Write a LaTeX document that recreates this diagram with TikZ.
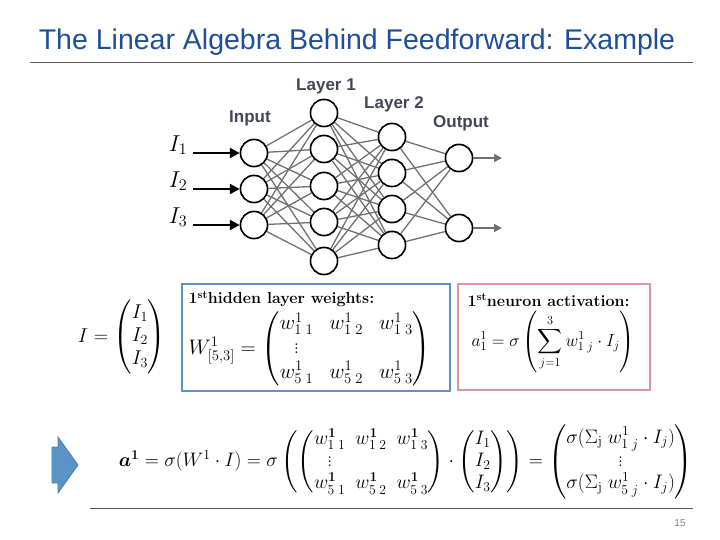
\RequirePackage{fix-cm}
\documentclass[tikz,border=0pt]{standalone}
\usepackage{amsmath,bm}
\usepackage{fontspec}
\newfontfamily\sans{Liberation Sans}
\usetikzlibrary{arrows.meta}
\definecolor{ttl}{HTML}{1F4E9A}
\definecolor{lbl}{HTML}{404858}
\definecolor{bbox}{HTML}{5B93C8}
\definecolor{pbox}{HTML}{E0939E}
\definecolor{cgray}{HTML}{707070}
\begin{document}
\begin{tikzpicture}[x=1pt,y=-1pt,
  neuron/.style={circle,draw=black,line width=1.5pt,minimum size=27pt,inner sep=0pt,fill=white},
  conn/.style={draw=cgray,line width=1.3pt},
  lab/.style={font={\sans\bfseries\fontsize{17}{19}\selectfont},text=lbl},
  inarr/.style={line width=2.4pt,-{Triangle[length=10pt,width=10pt]}},
  outarr/.style={draw=cgray,line width=1.6pt,-{Triangle[length=8pt,width=8pt]}}]
\useasboundingbox (0,0) rectangle (720,540);
\node[font={\sans\fontsize{28.5}{31}\selectfont},text=ttl] (title) at (357,42) {The Linear Algebra Behind Feedforward: Example};
\draw[gray!70!black,line width=0.8pt] (30,62) coordinate (t1) -- (693,62) coordinate (t2);
\draw[gray!70!black,line width=0.8pt] (90,508) coordinate (b1) -- (693,508) coordinate (b2);
\node[font={\sans\fontsize{10}{12}\selectfont},text=gray] (pg) at (680,523) {15};
% neurons
\foreach \y [count=\i] in {153,189,225} \node[neuron] (i\i) at (254,\y) {};
\foreach \y [count=\i] in {113,149,186,222,261} \node[neuron] (h\i) at (324,\y) {};
\foreach \y [count=\i] in {137,173,209,245} \node[neuron] (k\i) at (392,\y) {};
\foreach \y [count=\i] in {158,228} \node[neuron] (o\i) at (459,\y) {};
\foreach \a in {1,2,3} \foreach \b in {1,...,5} \draw[conn] (i\a) -- (h\b);
\foreach \a in {1,...,5} \foreach \b in {1,...,4} \draw[conn] (h\a) -- (k\b);
\foreach \a in {1,...,4} \foreach \b in {1,2} \draw[conn] (k\a) -- (o\b);
\foreach \y in {153,189,225} \node[neuron] at (254,\y) {};
\foreach \y in {113,149,186,222,261} \node[neuron] at (324,\y) {};
\foreach \y in {137,173,209,245} \node[neuron] at (392,\y) {};
\foreach \y in {158,228} \node[neuron] at (459,\y) {};
\foreach \i/\y in {1/153,2/189,3/225} {
  \coordinate (s\i) at (193,\y);
  \draw[inarr] (s\i) -- (i\i);
  \node[font={\fontsize{23}{26}\selectfont}] (L\i) at (178,\y-8) {$I_\i$};
}
\foreach \i/\y in {1/158,2/228} {
  \coordinate (e\i) at (502,\y);
  \draw[outarr] (o\i) -- (e\i);
}
\node[lab] (linput) at (250,118) {Input};
\node[lab] (l1) at (326,86) {Layer 1};
\node[lab] (l2) at (394,104) {Layer 2};
\node[lab] (lout) at (461,123) {Output};
% boxes
\draw[bbox,line width=2.4pt] (182,284) rectangle (450,391);
\draw[pbox,line width=2.4pt] (458,284) rectangle (650,390);
\node[font={\fontsize{20}{23}\selectfont}] (Ivec) at (122,337) {$I=\begin{pmatrix}I_1\\I_2\\I_3\end{pmatrix}$};
\node[anchor=west,font={\fontsize{16}{19}\selectfont\bfseries}] (bt) at (185,299) {1\textsuperscript{st}hidden layer weights:};
\node[anchor=west,font={\fontsize{21}{24}\selectfont}] (W) at (185,349) {\setlength\arraycolsep{8pt}$W^1_{[5,3]}=\begin{pmatrix}w^1_{1\;1}&w^1_{1\;2}&w^1_{1\;3}\\ \vdots&&\\ w^1_{5\;1}&w^1_{5\;2}&w^1_{5\;3}\end{pmatrix}$};
\node[anchor=west,font={\fontsize{16}{19}\selectfont\bfseries}] (pt) at (464,300) {1\textsuperscript{st}neuron activation:};
\node[anchor=west,font={\fontsize{17.5}{20}\selectfont}] (A) at (468,342) {$\displaystyle a^1_1=\sigma\left(\sum_{j=1}^{3}w^1_{1\;j}\cdot I_j\right)$};
% big arrow
\draw[bbox!85!black,fill=bbox,line width=0.8pt] (52,447) -- (58,447) -- (58,437) -- (78,465) -- (58,493) -- (58,483) -- (52,483) -- cycle;
\node[font={\fontsize{19.5}{22}\selectfont}] (eq) at (406,462) {\setlength\arraycolsep{5pt}$\bm{a^1}=\sigma(W^1\cdot I)=\sigma\left(\begin{pmatrix}w^{\bm1}_{1\;1}&w^{\bm1}_{1\;2}&w^{\bm1}_{1\;3}\\ \vdots&&\\ w^{\bm1}_{5\;1}&w^{\bm1}_{5\;2}&w^{\bm1}_{5\;3}\end{pmatrix}\cdot\begin{pmatrix}I_1\\I_2\\I_3\end{pmatrix}\right)=\begin{pmatrix}\sigma(\Sigma_{\mathrm j}\;w^1_{1\;j}\cdot I_j)\\ \vdots\\ \sigma(\Sigma_{\mathrm j}\;w^1_{5\;j}\cdot I_j)\end{pmatrix}$};
\end{tikzpicture}
\end{document}
